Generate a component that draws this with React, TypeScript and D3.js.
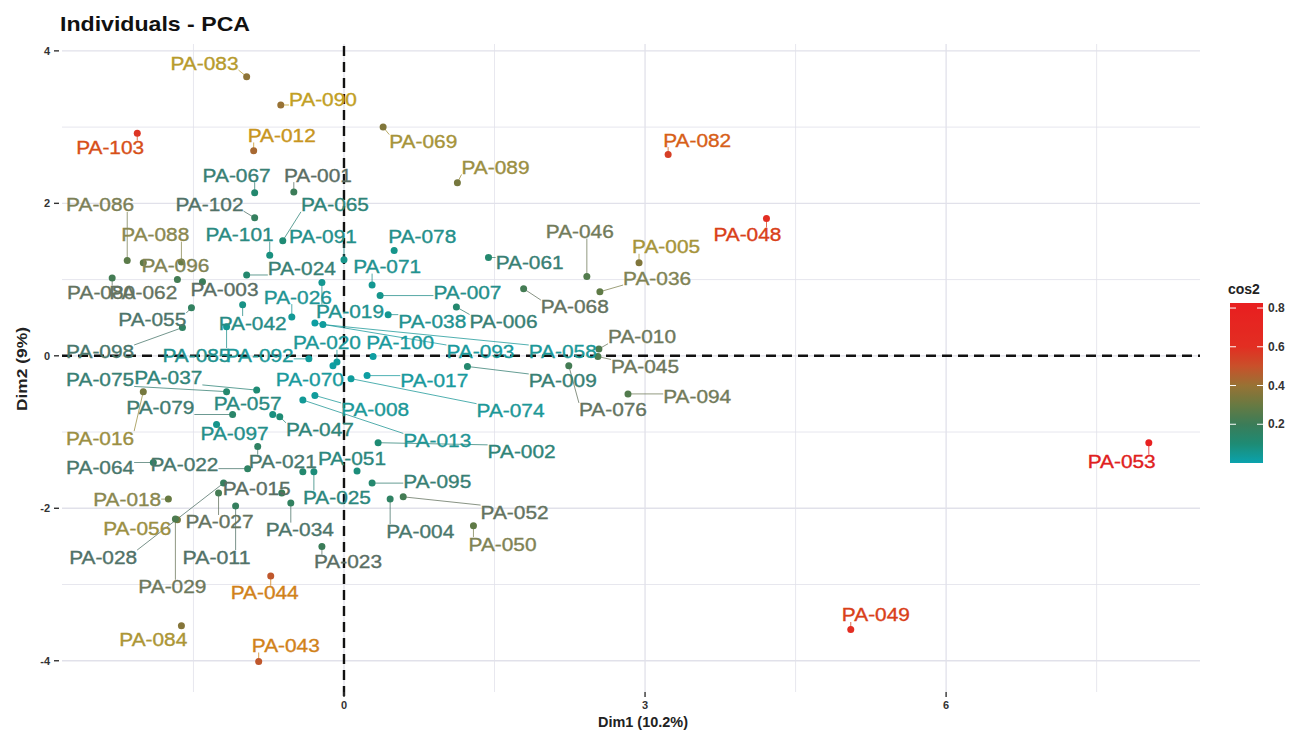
import React, { useEffect, useRef } from "react";
import * as d3 from "d3";

// individuals (factoextra fviz_pca_ind), coordinates on Dim1 / Dim2 and cos2
const ids = [
  "PA-083", "PA-090", "PA-103", "PA-012", "PA-069", "PA-082", "PA-089", "PA-067", "PA-001", "PA-086",
  "PA-102", "PA-065", "PA-088", "PA-101", "PA-091", "PA-078", "PA-046", "PA-005", "PA-048", "PA-061",
  "PA-036", "PA-096", "PA-024", "PA-071", "PA-080", "PA-062", "PA-003", "PA-042", "PA-085", "PA-026",
  "PA-019", "PA-007", "PA-068", "PA-055", "PA-038", "PA-006", "PA-010", "PA-098", "PA-092", "PA-020",
  "PA-100", "PA-093", "PA-058", "PA-045", "PA-075", "PA-037", "PA-070", "PA-017", "PA-074", "PA-009",
  "PA-076", "PA-094", "PA-079", "PA-057", "PA-047", "PA-008", "PA-013", "PA-016", "PA-097", "PA-002",
  "PA-064", "PA-022", "PA-021", "PA-051", "PA-025", "PA-095", "PA-018", "PA-015", "PA-028", "PA-027",
  "PA-056", "PA-029", "PA-011", "PA-034", "PA-004", "PA-052", "PA-050", "PA-023", "PA-044", "PA-084",
  "PA-043", "PA-049", "PA-053", "PA-014",
];
const dim1 = [
  -0.97, -0.63, -2.06, -0.9, 0.39, 3.23, 1.13, -0.89, -0.5, -2.16,
  -0.89, -0.61, -1.62, -0.74, 0.0, 0.5, 2.42, 2.94, 4.21, 1.44,
  2.55, -2.0, -0.97, 0.28, -2.31, -1.66, -1.41, -1.01, -1.17, -0.52,
  -0.22, 0.36, 1.79, -1.52, 0.44, 1.12, 2.54, -1.61, -0.35, -0.07,
  0.29, -0.29, -0.21, 2.53, -1.17, -0.87, -0.11, 0.23, 0.07, 1.23,
  2.24, 2.83, -1.11, -0.71, -0.64, -0.29, -0.41, -2.0, -1.27, 0.34,
  -1.9, -0.96, -0.86, 0.13, -0.3, 0.28, -1.75, -0.62, -1.2, -1.25,
  -1.66, -1.68, -1.08, -0.53, 0.46, 0.59, 1.29, -0.22, -0.73, -1.62,
  -0.85, 5.05, 8.02, -0.41,
];
const dim2 = [
  3.66, 3.29, 2.92, 2.69, 3.0, 2.64, 2.27, 2.14, 2.15, 1.25,
  1.81, 1.51, 1.23, 1.32, 1.26, 1.38, 1.04, 1.22, 1.8, 1.29,
  0.84, 1.22, 1.06, 0.93, 1.02, 1.0, 0.97, 0.67, 0.38, 0.51,
  0.96, 0.79, 0.88, 0.63, 0.54, 0.64, 0.09, 0.37, -0.04, -0.08,
  -0.01, 0.43, 0.41, -0.01, -0.47, -0.45, -0.13, -0.26, -0.3, -0.14,
  -0.13, -0.5, -0.77, -0.77, -0.8, -0.52, -0.58, -0.47, -0.9, -1.14,
  -1.4, -1.48, -1.19, -1.51, -1.52, -1.67, -1.88, -1.8, -1.67, -1.8,
  -2.15, -2.14, -1.97, -1.93, -1.88, -1.85, -2.23, -2.5, -2.89, -3.54,
  -4.01, -3.59, -1.14, -1.52,
];
const cos2 = [
  0.38, 0.4, 0.58, 0.43, 0.35, 0.55, 0.33, 0.12, 0.2, 0.27,
  0.18, 0.1, 0.3, 0.08, 0.06, 0.06, 0.25, 0.35, 0.62, 0.12,
  0.28, 0.28, 0.12, 0.05, 0.22, 0.22, 0.2, 0.07, 0.05, 0.04,
  0.05, 0.06, 0.22, 0.17, 0.05, 0.12, 0.24, 0.16, 0.03, 0.03,
  0.02, 0.02, 0.03, 0.24, 0.12, 0.1, 0.02, 0.02, 0.03, 0.12,
  0.22, 0.25, 0.14, 0.08, 0.1, 0.03, 0.04, 0.33, 0.06, 0.1,
  0.16, 0.16, 0.16, 0.09, 0.09, 0.12, 0.3, 0.2, 0.18, 0.22,
  0.33, 0.24, 0.18, 0.17, 0.16, 0.22, 0.28, 0.2, 0.48, 0.36,
  0.48, 0.62, 0.8, 0.12,
];
// where ggrepel put each label (data units); null = label dropped
const labelDim1 = [
  -1.39, -0.21, -2.33, -0.62, 0.79, 3.52, 1.51, -1.07, -0.26, -2.43,
  -1.34, -0.09, -1.88, -1.04, -0.21, 0.78, 2.35, 3.21, 4.02, 1.85,
  3.12, -1.68, -0.42, 0.43, -2.42, -2.0, -1.19, -0.91, -1.47, -0.46,
  0.06, 1.23, 2.3, -1.91, 0.88, 1.59, 2.97, -2.43, -0.84, -0.17,
  0.56, 1.36, 2.18, 3.0, -2.43, -1.75, -0.34, 0.9, 1.66, 2.18,
  2.68, 3.52, -1.83, -0.96, -0.24, 0.31, 0.93, -2.43, -1.09, 1.77,
  -2.43, -1.59, -0.61, 0.08, -0.07, 0.93, -2.16, -0.87, -2.4, -1.24,
  -2.06, -1.71, -1.27, -0.44, 0.76, 1.7, 1.58, 0.04, -0.79, -1.9,
  -0.58, 5.3, 7.75, null,
];
const labelDim2 = [
  3.84, 3.36, 2.73, 2.89, 2.81, 2.83, 2.47, 2.37, 2.37, 1.98,
  1.99, 1.98, 1.59, 1.59, 1.56, 1.56, 1.63, 1.43, 1.59, 1.23,
  1.02, 1.19, 1.15, 1.17, 0.83, 0.83, 0.87, 0.43, 0.01, 0.77,
  0.58, 0.83, 0.64, 0.47, 0.45, 0.45, 0.25, 0.05, 0.01, 0.17,
  0.17, 0.05, 0.05, -0.14, -0.31, -0.29, -0.31, -0.33, -0.72, -0.33,
  -0.71, -0.54, -0.68, -0.63, -0.97, -0.71, -1.11, -1.08, -1.02, -1.26,
  -1.46, -1.43, -1.39, -1.35, -1.86, -1.65, -1.88, -1.74, -2.64, -2.18,
  -2.26, -3.03, -2.64, -2.28, -2.3, -2.05, -2.47, -2.7, -3.11, -3.72,
  -3.8, -3.4, -1.39, null,
];

const xTicks = [0, 3, 6];
const yTicks = [-4, -2, 0, 2, 4];
const xMinor = [-1.5, 1.5, 4.5, 7.5];
const yMinor = [-3, -1, 1, 3];
const legendTicks = [0.2, 0.4, 0.6, 0.8];

const colorStops = [0, 0.1, 0.2, 0.3, 0.4, 0.5, 0.6, 0.8];
const pointColors = ["#0aa3ad", "#1e8b74", "#3b7c58", "#687a42", "#987234", "#c9502a", "#e22e22", "#e82020"];
const labelColors = ["#14a0a6", "#2f8478", "#5a6e64", "#8a8850", "#c2a024", "#d57a18", "#d84418", "#e02020"];

function App() {
  const ref = useRef<SVGSVGElement>(null);

  useEffect(() => {
    const W = 1293,
      H = 737;
    const font = "'Liberation Sans', Arial, Helvetica, sans-serif";
    const svg = d3.select(ref.current);
    svg.selectAll("*").remove();

    const x = d3.scaleLinear().domain([-2.81, 8.53]).range([62, 1200]);
    const y = d3.scaleLinear().domain([-4.41, 4.09]).range([692, 44]);
    const pointColor = d3.scaleLinear<string>().domain(colorStops).range(pointColors).clamp(true);
    const labelColor = d3.scaleLinear<string>().domain(colorStops).range(labelColors).clamp(true);

    svg.append("rect").attr("width", W).attr("height", H).attr("fill", "#fff");

    // grid
    const grid = svg.append("g").attr("stroke", "#e1e1ea");
    grid.selectAll(".vmin").data(xMinor).enter().append("line")
      .attr("x1", (d) => x(d)).attr("x2", (d) => x(d))
      .attr("y1", y.range()[0]).attr("y2", y.range()[1]).attr("stroke-width", 0.8);
    grid.selectAll(".hmin").data(yMinor).enter().append("line")
      .attr("y1", (d) => y(d)).attr("y2", (d) => y(d))
      .attr("x1", x.range()[0]).attr("x2", x.range()[1]).attr("stroke-width", 0.8);
    grid.selectAll(".vmaj").data(xTicks).enter().append("line")
      .attr("x1", (d) => x(d)).attr("x2", (d) => x(d))
      .attr("y1", y.range()[0]).attr("y2", y.range()[1]).attr("stroke-width", 1.3);
    grid.selectAll(".hmaj").data(yTicks).enter().append("line")
      .attr("y1", (d) => y(d)).attr("y2", (d) => y(d))
      .attr("x1", x.range()[0]).attr("x2", x.range()[1]).attr("stroke-width", 1.3);

    // reference lines
    svg.append("line")
      .attr("x1", x(0)).attr("x2", x(0)).attr("y1", y.range()[0] + 4).attr("y2", y.range()[1])
      .attr("stroke", "#111").attr("stroke-width", 2.4).attr("stroke-dasharray", "10,6");
    svg.append("line")
      .attr("y1", y(0)).attr("y2", y(0)).attr("x1", x.range()[0]).attr("x2", x.range()[1])
      .attr("stroke", "#111").attr("stroke-width", 2.4).attr("stroke-dasharray", "10,6");

    // axes ticks and labels
    const axis = svg.append("g").attr("font-family", font).attr("fill", "#333");
    axis.selectAll(".yt").data(yTicks).enter().append("line")
      .attr("x1", 54).attr("x2", 59).attr("y1", (d) => y(d)).attr("y2", (d) => y(d))
      .attr("stroke", "#333").attr("stroke-width", 1.4);
    axis.selectAll(".yl").data(yTicks).enter().append("text")
      .attr("x", 50).attr("y", (d) => y(d)).attr("dy", "0.35em")
      .attr("text-anchor", "end").attr("font-size", 11).attr("font-weight", "bold")
      .text((d) => d);
    axis.selectAll(".xt").data(xTicks).enter().append("line")
      .attr("x1", (d) => x(d)).attr("x2", (d) => x(d)).attr("y1", 692).attr("y2", 697)
      .attr("stroke", "#333").attr("stroke-width", 1.4);
    axis.selectAll(".xl").data(xTicks).enter().append("text")
      .attr("x", (d) => x(d)).attr("y", 705).attr("dy", "0.35em")
      .attr("text-anchor", "middle").attr("font-size", 11).attr("font-weight", "bold")
      .text((d) => d);

    svg.append("text")
      .attr("x", 643).attr("y", 722).attr("dy", "0.35em")
      .attr("text-anchor", "middle").attr("font-family", font).attr("font-size", 14)
      .attr("font-weight", "bold").attr("fill", "#222")
      .attr("textLength", 90).attr("lengthAdjust", "spacingAndGlyphs")
      .text("Dim1 (10.2%)");
    svg.append("text")
      .attr("transform", "translate(22,369) rotate(-90)").attr("dy", "0.35em")
      .attr("text-anchor", "middle").attr("font-family", font).attr("font-size", 15)
      .attr("font-weight", "bold").attr("fill", "#222")
      .attr("textLength", 84).attr("lengthAdjust", "spacingAndGlyphs")
      .text("Dim2 (9%)");

    svg.append("text")
      .attr("x", 60).attr("y", 31).attr("font-family", font).attr("font-size", 21)
      .attr("font-weight", "bold").attr("fill", "#111")
      .attr("textLength", 190).attr("lengthAdjust", "spacingAndGlyphs")
      .text("Individuals - PCA");

    const data = ids.map((id, i) => ({
      id,
      cx: x(dim1[i]),
      cy: y(dim2[i]),
      c: cos2[i],
      lx: labelDim1[i] == null ? null : x(labelDim1[i] as number),
      ly: labelDim2[i] == null ? null : y(labelDim2[i] as number),
    }));
    const labelled = data.filter((d) => d.lx != null);

    // repel segments
    const segs = labelled
      .map((d) => {
        const nx = Math.max((d.lx as number) - 34, Math.min(d.cx, (d.lx as number) + 34));
        const ny = Math.max((d.ly as number) - 7, Math.min(d.cy, (d.ly as number) + 7));
        return { ...d, nx, ny, len: Math.hypot(nx - d.cx, ny - d.cy) };
      })
      .filter((d) => d.len > 7);
    svg.append("g").selectAll("line").data(segs).enter().append("line")
      .attr("x1", (d) => d.cx).attr("y1", (d) => d.cy)
      .attr("x2", (d) => d.nx).attr("y2", (d) => d.ny)
      .attr("stroke", (d) => labelColor(d.c)).attr("stroke-width", 0.9).attr("opacity", 0.85);

    svg.append("g").selectAll("circle").data(data).enter().append("circle")
      .attr("cx", (d) => d.cx).attr("cy", (d) => d.cy).attr("r", 3.5)
      .attr("fill", (d) => pointColor(d.c));

    svg.append("g").selectAll("text").data(labelled).enter().append("text")
      .attr("x", (d) => d.lx as number).attr("y", (d) => d.ly as number).attr("dy", "0.36em")
      .attr("text-anchor", "middle").attr("font-family", font).attr("font-size", 18)
      .attr("textLength", 68).attr("lengthAdjust", "spacingAndGlyphs")
      .attr("fill", (d) => labelColor(d.c))
      .attr("stroke", (d) => labelColor(d.c)).attr("stroke-width", 0.35)
      .text((d) => d.id);

    // colour bar legend
    const ly = d3.scaleLinear().domain([0.0, 0.826]).range([463, 303]);
    const grad = svg.append("defs").append("linearGradient")
      .attr("id", "cosbar").attr("x1", 0).attr("x2", 0).attr("y1", 1).attr("y2", 0);
    d3.range(0, 0.8261, 0.02).forEach((v) => {
      grad.append("stop").attr("offset", v / 0.826).attr("stop-color", pointColor(v));
    });
    svg.append("rect").attr("x", 1230).attr("y", 303).attr("width", 33).attr("height", 160)
      .attr("fill", "url(#cosbar)");
    const lg = svg.append("g");
    lg.selectAll(".tl").data(legendTicks).enter().append("line")
      .attr("x1", 1230).attr("x2", 1236).attr("y1", (d) => ly(d)).attr("y2", (d) => ly(d))
      .attr("stroke", "#fff").attr("stroke-width", 1);
    lg.selectAll(".tr").data(legendTicks).enter().append("line")
      .attr("x1", 1257).attr("x2", 1263).attr("y1", (d) => ly(d)).attr("y2", (d) => ly(d))
      .attr("stroke", "#fff").attr("stroke-width", 1);
    lg.selectAll("text").data(legendTicks).enter().append("text")
      .attr("x", 1268).attr("y", (d) => ly(d)).attr("dy", "0.35em")
      .attr("font-family", font).attr("font-size", 12).attr("font-weight", "bold").attr("fill", "#333")
      .text((d) => d.toFixed(1));
    svg.append("text")
      .attr("x", 1228).attr("y", 294).attr("font-family", font).attr("font-size", 14)
      .attr("font-weight", "bold").attr("fill", "#222").text("cos2");
  }, []);

  return (
    <svg
      ref={ref}
      width={1293}
      height={737}
      style={{ position: "absolute", left: 0, top: 0, display: "block" }}
    />
  );
}

export default App;
